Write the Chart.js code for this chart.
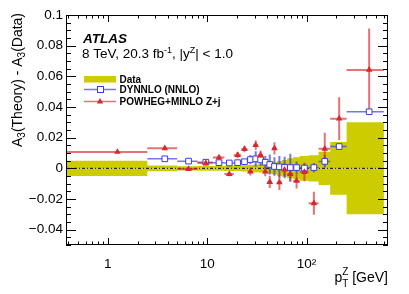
<!DOCTYPE html>
<html>
<head>
<meta charset="utf-8">
<script src="https://cdn.jsdelivr.net/npm/chart.js@4.4.0/dist/chart.umd.min.js"></script>
<style>
  html, body { margin: 0; padding: 0; background: #fff; }
  #wrap { width: 409px; height: 294px; }
</style>
</head>
<body>
<div id="wrap"><canvas id="chart"></canvas></div>
<script>
// pT(Z) bin edges [GeV]
const binEdges = [0, 2.5, 5, 8, 11.4, 14.9, 18.5, 22, 25.5, 29, 32.6, 36.4, 40.4, 44.9,
                  50.2, 56.4, 63.9, 73.4, 85.4, 105, 132, 173, 253, 600];

// half-width of the data uncertainty band (centred on 0)
const dataErr = [0.0050, 0.0019, 0.0014, 0.0016, 0.0016, 0.0017, 0.0018, 0.0020, 0.0022,
                 0.0025, 0.0027, 0.0030, 0.0035, 0.0040, 0.0048, 0.0055, 0.0065, 0.0072,
                 0.0081, 0.0086, 0.0108, 0.0172, 0.0300];

// DYNNLO (NNLO) - data
const dynnloVal = [null, 0.0062, 0.0047, 0.0040, 0.0037, 0.0035, 0.0037, 0.0043, 0.0057,
                   0.0062, 0.0055, 0.0040, 0.0025, 0.0012, 0.0010, 0.0006, 0.0005, 0.0005,
                   0.0002, 0.0005, 0.0045, 0.0142, 0.0369];
const dynnloErr = [0, 0, 0, 0, 0, 0, 0, 0.0005, 0.003, 0.005, 0.004, 0.004, 0.0065, 0.006,
                   0.007, 0.007, 0.009, 0.004, 0.003, 0.003, 0.004, 0.002, 0.001];

// POWHEG+MINLO Z+j - data
const powhegVal = [0.0107, 0.0131, -0.0005, 0.0034, 0.0071, -0.0037, 0.0086, 0.0125, -0.0022,
                   0.0151, 0.0086, -0.0022, -0.0089, 0.0130, -0.0092, -0.0009, -0.0037,
                   -0.0082, -0.0024, -0.0228, 0.0127, 0.0324, 0.0642];
const powhegErr = [0.0005, 0.001, 0.001, 0.0012, 0.0015, 0.0015, 0.002, 0.002, 0.0025, 0.003,
                   0.003, 0.003, 0.004, 0.004, 0.005, 0.004, 0.005, 0.005, 0.006, 0.0075,
                   0.0105, 0.014, 0.027];

const yTickValues = [0.1, 0.08, 0.06, 0.04, 0.02, 0, -0.02, -0.04];
const xTickValues = [1, 10, 100];
const xTickLabels = ['1', '10', '10\u00b2'];

const X_MIN = 0.38, X_MAX = 660, Y_MIN = -0.05, Y_MAX = 0.1;

const YELLOW = '#cccc00';
const BLUE = 'rgb(60,60,225)';
const BLUE_BAR = 'rgba(60,60,225,0.7)';
const RED = 'rgb(215,40,45)';
const RED_BAR = 'rgba(215,40,45,0.65)';
const FONT = "'Liberation Sans', Arial, Helvetica, sans-serif";

// helpers to turn bins into points
const binLo = i => Math.max(binEdges[i], X_MIN);
const binHi = i => binEdges[i + 1];
const binMid = i => (binEdges[i] + binEdges[i + 1]) / 2;

function bandPoints(sign) {
    const pts = [];
    dataErr.forEach((e, i) => {
        pts.push({x: binLo(i), y: sign * e}, {x: binHi(i), y: sign * e});
    });
    return pts;
}

function hBars(vals) {
    const pts = [];
    vals.forEach((v, i) => {
        if (v === null) return;
        pts.push({x: binLo(i), y: v}, {x: binHi(i), y: v}, {x: binHi(i), y: null});
    });
    return pts;
}

function vBars(vals, errs) {
    const pts = [];
    vals.forEach((v, i) => {
        if (v === null || !errs[i]) return;
        pts.push({x: binMid(i), y: v - errs[i]}, {x: binMid(i), y: v + errs[i]}, {x: binMid(i), y: null});
    });
    return pts;
}

function markers(vals) {
    return vals.map((v, i) => v === null ? null : {x: binMid(i), y: v}).filter(p => p);
}

const segLine = (data, color, width, order) => ({
    data, borderColor: color, borderWidth: width, pointRadius: 0, fill: false,
    spanGaps: false, order
});

// ticks, frame, texts in ROOT style
const rootFrame = {
    id: 'rootFrame',
    afterDatasetsDraw(chart) {
        const {ctx, chartArea: a, scales: {x, y}} = chart;
        ctx.save();
        ctx.strokeStyle = '#000';
        ctx.lineWidth = 1;
        ctx.strokeRect(a.left + 0.5, a.top + 0.5, a.right - a.left - 1, a.bottom - a.top - 1);
        ctx.beginPath();
        for (let k = -10; k <= 20; k++) {
            const py = Math.round(y.getPixelForValue(k * 0.005)) + 0.5;
            const len = k % 4 === 0 ? 10 : 5;
            ctx.moveTo(a.left, py); ctx.lineTo(a.left + len, py);
            ctx.moveTo(a.right, py); ctx.lineTo(a.right - len, py);
        }
        for (let d = -1; d <= 2; d++) {
            for (let m = 1; m <= 9; m++) {
                const v = m * Math.pow(10, d);
                if (v < X_MIN || v > X_MAX) continue;
                const px = Math.round(x.getPixelForValue(v)) + 0.5;
                const len = m === 1 ? 7 : 3.5;
                ctx.moveTo(px, a.bottom); ctx.lineTo(px, a.bottom - len);
                ctx.moveTo(px, a.top); ctx.lineTo(px, a.top + len);
            }
        }
        ctx.stroke();
        ctx.restore();
    },
    afterDraw(chart) {
        const ctx = chart.ctx;
        ctx.save();
        ctx.fillStyle = '#000';
        ctx.textBaseline = 'alphabetic';
        ctx.textAlign = 'left';

        // ATLAS label
        ctx.font = `italic bold 13.5px ${FONT}`;
        ctx.fillText('ATLAS', 83, 43);

        // run info with superscripts
        let cx = 82;
        const part = (t, size, dy) => {
            ctx.font = `${size}px ${FONT}`;
            ctx.fillText(t, cx, 57.5 + dy);
            cx += ctx.measureText(t).width;
        };
        part('8 TeV, 20.3 fb', 13.5, 0);
        part('-1', 9, -5);
        part(', |y', 13.5, 0);
        part('Z', 9, -5);
        part('| < 1.0', 13.5, 0);

        // legend
        ctx.fillStyle = YELLOW;
        ctx.fillRect(84, 76, 32, 6.5);
        ctx.strokeStyle = BLUE_BAR;
        ctx.lineWidth = 1.5;
        ctx.beginPath(); ctx.moveTo(84, 89.5); ctx.lineTo(116, 89.5); ctx.stroke();
        ctx.fillStyle = '#fff';
        ctx.strokeStyle = BLUE;
        ctx.lineWidth = 1;
        ctx.fillRect(97, 86.5, 6, 6);
        ctx.strokeRect(97.5, 86.5, 6, 6);
        ctx.strokeStyle = RED_BAR;
        ctx.lineWidth = 1.5;
        ctx.beginPath(); ctx.moveTo(84, 101.5); ctx.lineTo(116, 101.5); ctx.stroke();
        ctx.fillStyle = RED;
        ctx.beginPath(); ctx.moveTo(100, 98); ctx.lineTo(103.2, 103.5); ctx.lineTo(96.8, 103.5); ctx.closePath(); ctx.fill();

        ctx.fillStyle = '#000';
        ctx.font = `bold 10px ${FONT}`;
        ctx.fillText('Data', 119.5, 82.5);
        ctx.fillText('DYNNLO (NNLO)', 119.5, 93);
        ctx.fillText('POWHEG+MINLO Z+j', 119.5, 104.5);

        // y axis title, rotated
        ctx.save();
        ctx.translate(22, 147);
        ctx.rotate(-Math.PI / 2);
        let tx = 0;
        const ypart = (t, size, dy) => {
            ctx.font = `${size}px ${FONT}`;
            ctx.fillText(t, tx, dy);
            tx += ctx.measureText(t).width;
        };
        ypart('A', 14, 0);
        ypart('3', 10, 3);
        ypart('(Theory) - A', 14, 0);
        ypart('3', 10, 3);
        ypart('(Data)', 14, 0);
        ctx.restore();

        // x axis title, right aligned
        ctx.font = `14px ${FONT}`;
        const wP = ctx.measureText('p').width;
        const wG = ctx.measureText(' [GeV]').width;
        ctx.font = `10px ${FONT}`;
        const wS = Math.max(ctx.measureText('T').width, ctx.measureText('Z').width);
        let xx = 388 - wG - wS - wP;
        ctx.font = `14px ${FONT}`;
        ctx.fillText('p', xx, 282);
        ctx.font = `10px ${FONT}`;
        ctx.fillText('Z', xx + wP, 275);
        ctx.fillText('T', xx + wP, 287);
        ctx.font = `14px ${FONT}`;
        ctx.fillText(' [GeV]', xx + wP + wS, 282);
        ctx.restore();
    }
};

const ctx = document.getElementById('chart').getContext('2d');
new Chart(ctx, {
    type: 'line',
    data: {
        datasets: [
            // markers on top
            {data: markers(powhegVal), showLine: false, pointStyle: 'triangle', pointRadius: 3.8,
             backgroundColor: RED, borderColor: RED, borderWidth: 0, order: 0},
            {data: markers(dynnloVal), showLine: false, pointStyle: 'rect', pointRadius: 4,
             backgroundColor: '#fff', borderColor: BLUE, borderWidth: 1, order: 1},
            segLine(vBars(powhegVal, powhegErr), RED_BAR, 2, 2),
            segLine(hBars(powhegVal), RED_BAR, 2, 3),
            segLine(vBars(dynnloVal, dynnloErr), BLUE_BAR, 2, 4),
            segLine(hBars(dynnloVal), BLUE_BAR, 1.5, 5),
            // zero line
            {data: [{x: X_MIN, y: 0}, {x: X_MAX, y: 0}], borderColor: '#000', borderWidth: 1,
             borderDash: [3, 2, 1, 2], pointRadius: 0, fill: false, order: 6},
            // data uncertainty band
            {data: bandPoints(1), borderWidth: 0, borderColor: 'rgba(0,0,0,0)', pointRadius: 0,
             backgroundColor: YELLOW, fill: 'origin', order: 7},
            {data: bandPoints(-1), borderWidth: 0, borderColor: 'rgba(0,0,0,0)', pointRadius: 0,
             backgroundColor: YELLOW, fill: 'origin', order: 8}
        ]
    },
    options: {
        responsive: true,
        maintainAspectRatio: false,
        animation: false,
        layout: {padding: {left: 0, right: 21, top: 15, bottom: 0}},
        plugins: {legend: {display: false}, tooltip: {enabled: false}},
        elements: {line: {tension: 0}},
        scales: {
            x: {
                type: 'logarithmic',
                min: X_MIN,
                max: X_MAX,
                grid: {display: false, drawTicks: false},
                border: {display: false},
                afterBuildTicks: s => { s.ticks = xTickValues.map(v => ({value: v})); },
                afterFit: s => { s.height = 49; },
                ticks: {
                    autoSkip: false, maxRotation: 0, padding: 11, color: '#000',
                    font: {family: FONT, size: 13.5},
                    callback: (v, i) => xTickLabels[i]
                }
            },
            y: {
                type: 'linear',
                min: Y_MIN,
                max: Y_MAX,
                grid: {display: false, drawTicks: false},
                border: {display: false},
                afterBuildTicks: s => { s.ticks = yTickValues.map(v => ({value: v})); },
                afterFit: s => { s.width = 66; },
                ticks: {
                    padding: 3, color: '#000',
                    font: {family: FONT, size: 13.5},
                    callback: v => v === 0 ? '0' : (v < 0 ? '\u2212' + String(+(-v).toFixed(2)) : String(+v.toFixed(2)))
                }
            }
        }
    },
    plugins: [rootFrame]
});
</script>
</body>
</html>
